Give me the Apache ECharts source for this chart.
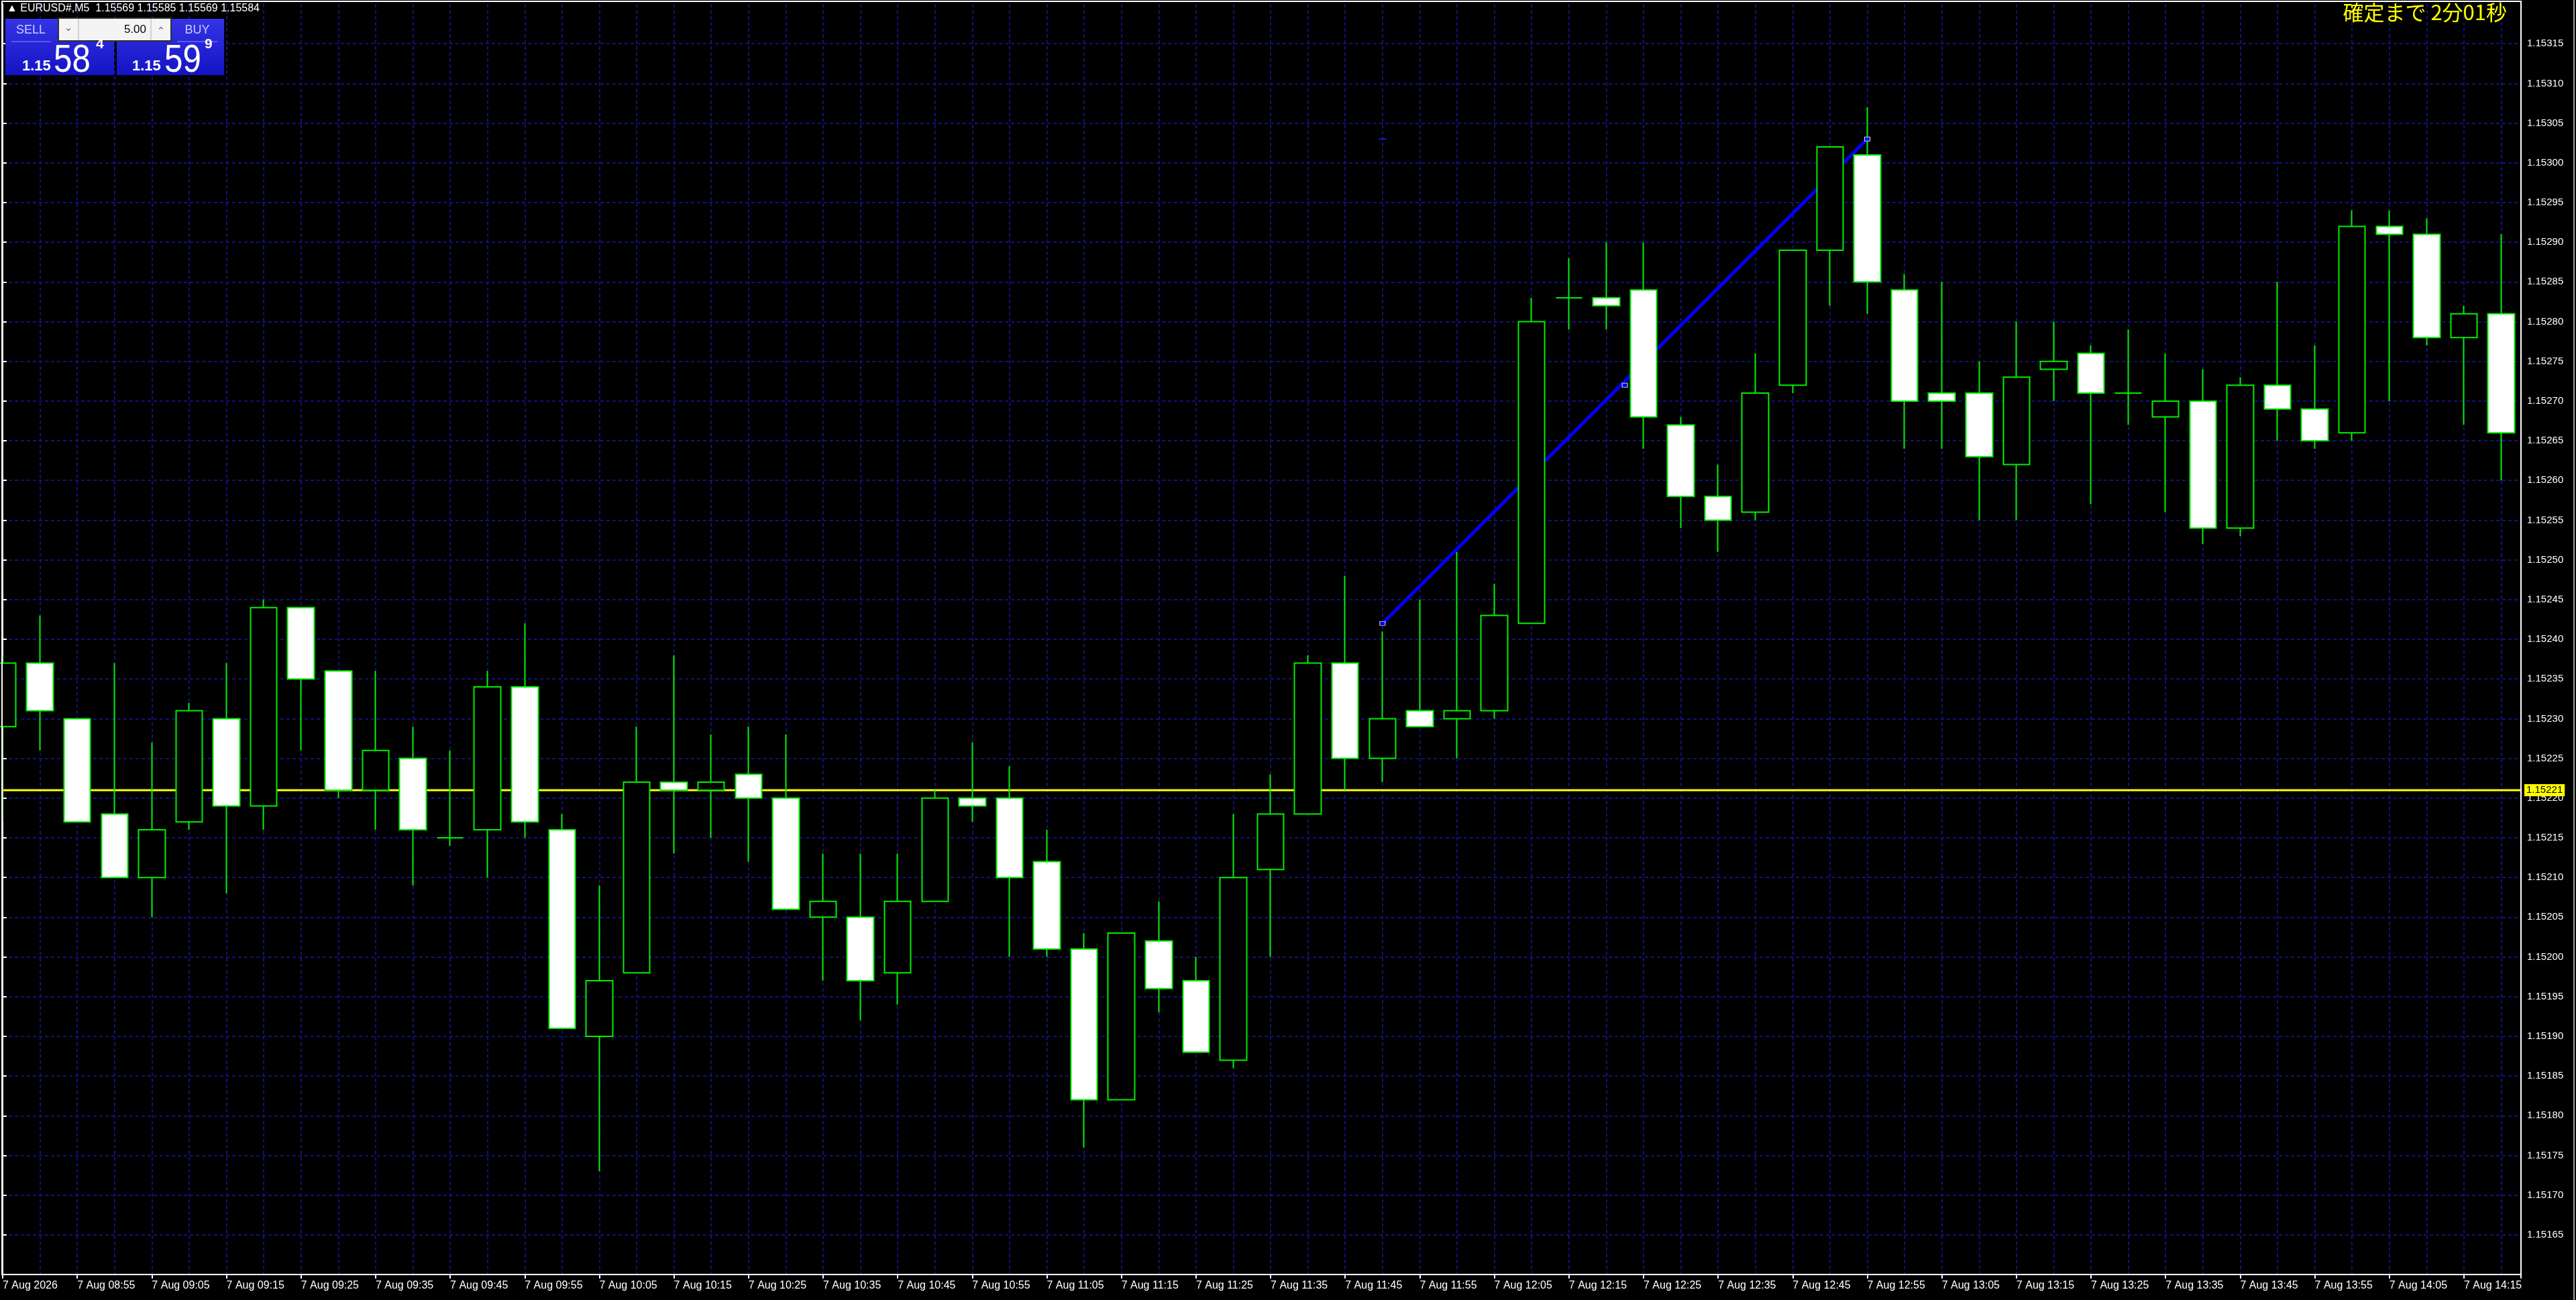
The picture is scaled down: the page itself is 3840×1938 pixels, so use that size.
<!DOCTYPE html>
<html>
<head>
<meta charset="utf-8">
<script src="https://cdn.jsdelivr.net/npm/echarts@6/dist/echarts.min.js"></script>
<style>
html,body{margin:0;padding:0;background:#000;}
#chart{width:3840px;height:1938px;}
</style>
</head>
<body>
<div id="chart"></div>
<script>
// ---- data (M5 candles, 7 Aug 08:45 .. 14:20) ----
const times = ['7 Aug 2026','7 Aug 08:50','7 Aug 08:55','7 Aug 09:00','7 Aug 09:05','7 Aug 09:10','7 Aug 09:15','7 Aug 09:20','7 Aug 09:25','7 Aug 09:30',
'7 Aug 09:35','7 Aug 09:40','7 Aug 09:45','7 Aug 09:50','7 Aug 09:55','7 Aug 10:00','7 Aug 10:05','7 Aug 10:10','7 Aug 10:15','7 Aug 10:20',
'7 Aug 10:25','7 Aug 10:30','7 Aug 10:35','7 Aug 10:40','7 Aug 10:45','7 Aug 10:50','7 Aug 10:55','7 Aug 11:00','7 Aug 11:05','7 Aug 11:10',
'7 Aug 11:15','7 Aug 11:20','7 Aug 11:25','7 Aug 11:30','7 Aug 11:35','7 Aug 11:40','7 Aug 11:45','7 Aug 11:50','7 Aug 11:55','7 Aug 12:00',
'7 Aug 12:05','7 Aug 12:10','7 Aug 12:15','7 Aug 12:20','7 Aug 12:25','7 Aug 12:30','7 Aug 12:35','7 Aug 12:40','7 Aug 12:45','7 Aug 12:50',
'7 Aug 12:55','7 Aug 13:00','7 Aug 13:05','7 Aug 13:10','7 Aug 13:15','7 Aug 13:20','7 Aug 13:25','7 Aug 13:30','7 Aug 13:35','7 Aug 13:40',
'7 Aug 13:45','7 Aug 13:50','7 Aug 13:55','7 Aug 14:00','7 Aug 14:05','7 Aug 14:10','7 Aug 14:15','7 Aug 14:20'];
const opens  = [1.15229,1.15237,1.15230,1.15218,1.15210,1.15217,1.15230,1.15219,1.15244,1.15236,
1.15221,1.15225,1.15215,1.15216,1.15234,1.15216,1.15190,1.15198,1.15222,1.15221,
1.15223,1.15220,1.15205,1.15205,1.15198,1.15207,1.15220,1.15220,1.15212,1.15201,
1.15182,1.15202,1.15197,1.15187,1.15211,1.15218,1.15237,1.15225,1.15231,1.15230,
1.15231,1.15242,1.15283,1.15283,1.15284,1.15267,1.15258,1.15256,1.15272,1.15289,
1.15301,1.15284,1.15271,1.15271,1.15262,1.15274,1.15276,1.15271,1.15268,1.15270,
1.15254,1.15272,1.15269,1.15266,1.15292,1.15291,1.15278,1.15281];
const highs  = [1.15238,1.15243,1.15230,1.15237,1.15227,1.15232,1.15237,1.15245,1.15244,1.15236,
1.15236,1.15229,1.15226,1.15236,1.15242,1.15218,1.15209,1.15229,1.15238,1.15228,
1.15229,1.15228,1.15213,1.15213,1.15213,1.15221,1.15227,1.15224,1.15216,1.15203,
1.15203,1.15207,1.15200,1.15218,1.15223,1.15238,1.15248,1.15241,1.15245,1.15251,
1.15247,1.15283,1.15288,1.15290,1.15290,1.15268,1.15262,1.15276,1.15289,1.15302,
1.15307,1.15286,1.15285,1.15275,1.15280,1.15280,1.15277,1.15279,1.15276,1.15274,
1.15273,1.15285,1.15277,1.15294,1.15294,1.15293,1.15282,1.15291];
const lows   = [1.15217,1.15226,1.15217,1.15210,1.15205,1.15216,1.15208,1.15216,1.15226,1.15220,
1.15216,1.15209,1.15214,1.15210,1.15215,1.15191,1.15173,1.15198,1.15213,1.15215,
1.15212,1.15206,1.15197,1.15192,1.15194,1.15207,1.15217,1.15200,1.15200,1.15176,
1.15182,1.15193,1.15188,1.15186,1.15200,1.15218,1.15221,1.15222,1.15229,1.15225,
1.15230,1.15242,1.15279,1.15279,1.15264,1.15254,1.15251,1.15255,1.15271,1.15282,
1.15281,1.15264,1.15264,1.15255,1.15255,1.15270,1.15257,1.15267,1.15256,1.15252,
1.15253,1.15265,1.15264,1.15265,1.15270,1.15277,1.15267,1.15260];
const closes = [1.15237,1.15231,1.15217,1.15210,1.15216,1.15231,1.15219,1.15244,1.15235,1.15221,
1.15226,1.15216,1.15215,1.15234,1.15217,1.15191,1.15197,1.15222,1.15221,1.15222,
1.15220,1.15206,1.15207,1.15197,1.15207,1.15220,1.15219,1.15210,1.15201,1.15182,
1.15203,1.15196,1.15188,1.15210,1.15218,1.15237,1.15225,1.15230,1.15229,1.15231,
1.15243,1.15280,1.15283,1.15282,1.15268,1.15258,1.15255,1.15271,1.15289,1.15302,
1.15285,1.15270,1.15270,1.15263,1.15273,1.15275,1.15271,1.15271,1.15270,1.15254,
1.15272,1.15269,1.15265,1.15292,1.15291,1.15278,1.15281,1.15266];
const priceLine = 1.15221;
const trendPoints = [[37, 1.15242], [50, 1.15303]];
const trendHandles = [[37, 1.15242], [43.5, 1.15272], [50, 1.15303]];
const trendDash = [[37, 1.15303]];
const yMin = 1.15160, yMax = 1.15320, yStep = 0.00005;
const xMax = 67.53;

const candleRows = opens.map((o, i) => [i, o, closes[i], lows[i], highs[i]]);
const priceLineRows = [[0, priceLine], [xMax, priceLine]];

const LIME = '#00f000';
const GRID = '#12127a';
const FONT = '"Liberation Sans", Arial, sans-serif';
const chart = echarts.init(document.getElementById('chart'), null, {renderer: 'canvas'});

const panelFill = () => new echarts.graphic.LinearGradient(0, 0, 0, 1, [{offset: 0, color: '#3434e6'}, {offset: 1, color: '#1414c4'}]);

const option = {
  backgroundColor: '#000000',
  animation: false,
  grid: {left: 4, right: 82, top: 6, bottom: 38, containLabel: false},
  xAxis: [{
    type: 'value', min: 0, max: xMax, interval: 2,
    axisLine: {show: true, lineStyle: {color: '#ffffff', width: 2}},
    axisTick: {show: true, length: 6, lineStyle: {color: '#ffffff', width: 2}},
    axisLabel: {
      show: true, color: '#ffffff', fontSize: 16, fontFamily: FONT,
      align: 'left', margin: 9,
      showMinLabel: true, showMaxLabel: true,
      formatter: v => (Number.isInteger(v) && v % 2 === 0 && times[v]) ? times[v] : ''
    },
    splitLine: {show: false}
  }, {
    type: 'value', min: 0, max: xMax, interval: 1, position: 'bottom',
    axisLine: {show: false}, axisTick: {show: false}, axisLabel: {show: false},
    splitLine: {show: true, lineStyle: {color: GRID, width: 2, type: [5, 4]}}
  }],
  yAxis: {
    type: 'value', position: 'right', min: yMin, max: yMax, interval: yStep,
    axisLine: {show: true, lineStyle: {color: '#ffffff', width: 2}},
    axisTick: {show: true, length: 6, lineStyle: {color: '#ffffff', width: 2}},
    axisLabel: {
      color: '#ffffff', fontSize: 15, fontFamily: FONT, margin: 9,
      showMinLabel: false, showMaxLabel: false,
      formatter: v => v.toFixed(5)
    },
    splitLine: {show: true, showMinLine: false, showMaxLine: false, lineStyle: {color: GRID, width: 2, type: [5, 4]}}
  },
  series: [
    {
      type: 'line', data: priceLineRows, z: 1, silent: true, symbol: 'none', clip: false,
      lineStyle: {color: '#ffff00', width: 3, type: 'solid'},
      endLabel: {
        show: true, distance: 5, formatter: () => priceLine.toFixed(5),
        color: '#000000', backgroundColor: '#ffff00', fontSize: 15,
        fontFamily: FONT, padding: [2, 3, 1, 3]
      }
    },
    {
      type: 'line', data: trendPoints, z: 1, silent: true, symbol: 'none',
      lineStyle: {color: '#0000ff', width: 5}
    },
    {
      type: 'candlestick', data: candleRows, z: 3,
      encode: {x: 0, y: [1, 2, 3, 4]},
      barWidth: 40, clip: true,
      itemStyle: {
        color: '#000000', color0: '#ffffff',
        borderColor: LIME, borderColor0: LIME, borderColorDoji: LIME,
        borderWidth: 2
      }
    },
    {
      type: 'scatter', data: trendHandles, z: 4, silent: true,
      symbol: 'rect', symbolSize: [8, 6],
      itemStyle: {color: '#0000ff', borderColor: '#ffffff', borderWidth: 1}
    },
    {
      type: 'scatter', data: trendDash, z: 4, silent: true,
      symbol: 'rect', symbolSize: [12, 2],
      itemStyle: {color: '#1a1aff'}
    }
  ],
  graphic: [
    {type: 'rect', z: 10, shape: {x: 3, y: 2, width: 3755, height: 1898}, style: {fill: 'none', stroke: '#ffffff', lineWidth: 2}, silent: true},
    {type: 'line', z: 10, shape: {x1: 3837, y1: 0, x2: 3837, y2: 1938}, style: {stroke: '#a0a0a0', lineWidth: 2}, silent: true},
    {type: 'text', z: 11, left: 10, top: 5, style: {text: '▲ EURUSD#,M5  1.15569 1.15585 1.15569 1.15584', fill: '#ffffff', font: '16px ' + FONT}},
    // trade panel
    {type: 'rect', z: 11, shape: {x: 8, y: 28, width: 162, height: 84}, style: {fill: panelFill()}},
    {type: 'rect', z: 11, shape: {x: 174, y: 28, width: 160, height: 84}, style: {fill: panelFill()}},
    {type: 'text', z: 12, x: 46, y: 45, style: {text: 'SELL', fill: '#c8ccff', font: '18px ' + FONT, align: 'center', verticalAlign: 'middle'}},
    {type: 'text', z: 12, x: 294, y: 45, style: {text: 'BUY', fill: '#c8ccff', font: '18px ' + FONT, align: 'center', verticalAlign: 'middle'}},
    {type: 'line', z: 12, shape: {x1: 17, y1: 62, x2: 76, y2: 62}, style: {stroke: '#8c8cff', lineWidth: 1}},
    {type: 'line', z: 12, shape: {x1: 264, y1: 62, x2: 324, y2: 62}, style: {stroke: '#8c8cff', lineWidth: 1}},
    {type: 'rect', z: 12, shape: {x: 87, y: 27, width: 168, height: 34}, style: {fill: '#f4f4f4', stroke: '#303030', lineWidth: 2}},
    {type: 'line', z: 13, shape: {x1: 117, y1: 28, x2: 117, y2: 60}, style: {stroke: '#b0b0b0', lineWidth: 1}},
    {type: 'line', z: 13, shape: {x1: 225, y1: 28, x2: 225, y2: 60}, style: {stroke: '#b0b0b0', lineWidth: 1}},
    {type: 'text', z: 13, x: 102, y: 42, style: {text: '⌄', fill: '#606060', font: '15px "DejaVu Sans", sans-serif', align: 'center', verticalAlign: 'middle'}},
    {type: 'text', z: 13, x: 240, y: 47, style: {text: '⌃', fill: '#606060', font: '15px "DejaVu Sans", sans-serif', align: 'center', verticalAlign: 'middle'}},
    {type: 'text', z: 13, x: 218, y: 44, style: {text: '5.00', fill: '#000000', font: '17px ' + FONT, align: 'right', verticalAlign: 'middle'}},
    {type: 'text', z: 12, x: 33, y: 110, style: {text: '1.15', fill: '#ffffff', font: 'bold 22px ' + FONT, align: 'left', verticalAlign: 'bottom'}},
    {type: 'text', z: 12, x: 80, y: 120, scaleX: 0.85, originX: 0, originY: 0, style: {text: '58', fill: '#ffffff', font: '58px ' + FONT, align: 'left', verticalAlign: 'bottom'}},
    {type: 'text', z: 12, x: 143, y: 56, style: {text: '4', fill: '#ffffff', font: 'bold 21px ' + FONT, align: 'left', verticalAlign: 'top'}},
    {type: 'text', z: 12, x: 197, y: 110, style: {text: '1.15', fill: '#ffffff', font: 'bold 22px ' + FONT, align: 'left', verticalAlign: 'bottom'}},
    {type: 'text', z: 12, x: 245, y: 120, scaleX: 0.85, originX: 0, originY: 0, style: {text: '59', fill: '#ffffff', font: '58px ' + FONT, align: 'left', verticalAlign: 'bottom'}},
    {type: 'text', z: 12, x: 305, y: 56, style: {text: '9', fill: '#ffffff', font: 'bold 21px ' + FONT, align: 'left', verticalAlign: 'top'}},
    // countdown
    {type: 'text', z: 12, x: 3737, y: 18, style: {text: '確定まで 2分01秒', fill: '#ffff00', font: '31px "Noto Sans CJK JP", sans-serif', align: 'right', verticalAlign: 'middle'}}
  ]
};
chart.setOption(option);
</script>
</body>
</html>
